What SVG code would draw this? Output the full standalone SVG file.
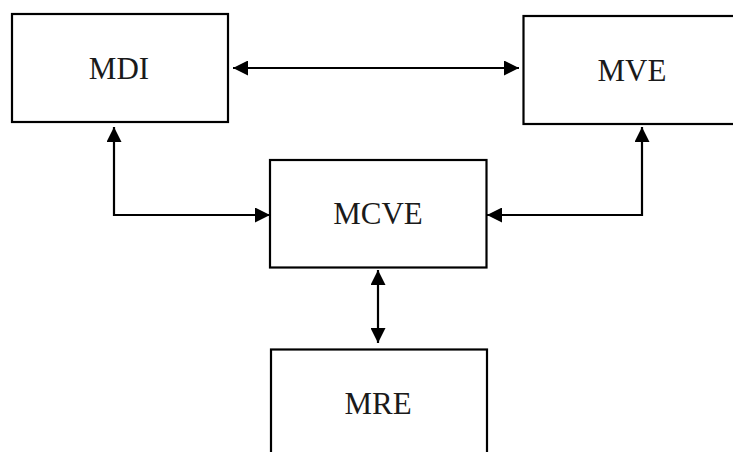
<svg xmlns="http://www.w3.org/2000/svg" width="733" height="452" viewBox="0 0 733 452">
<style>
.box{fill:#fff;stroke:#000;stroke-width:2.2}
.lbl{font-family:"Liberation Serif","Times New Roman",serif;font-size:31px;fill:#1a1a1a;text-anchor:middle}
.conn{fill:none;stroke:#000;stroke-width:2.2}
</style>
<defs>
<marker id="ah" markerUnits="userSpaceOnUse" markerWidth="15" markerHeight="15" refX="15" refY="7.5" orient="auto-start-reverse">
<path d="M0,0 L15,7.5 L0,15 z" fill="#000"/>
</marker>
</defs>
<rect width="733" height="452" fill="#fff"/>
<g id="connectors">
<path class="conn" d="M233,68 L519,68" marker-start="url(#ah)" marker-end="url(#ah)"/>
<path class="conn" d="M114,127 L114,215 L270,215" marker-start="url(#ah)" marker-end="url(#ah)"/>
<path class="conn" d="M642,127 L642,215 L487,215" marker-start="url(#ah)" marker-end="url(#ah)"/>
<path class="conn" d="M378,270 L378,343" marker-start="url(#ah)" marker-end="url(#ah)"/>
</g>
<g id="MDI">
<rect class="box" x="12" y="14" width="216" height="108"/>
<text class="lbl" x="119" y="79">MDI</text>
</g>
<g id="MVE">
<rect class="box" x="523.5" y="16" width="230" height="108"/>
<text class="lbl" x="632" y="80.5">MVE</text>
</g>
<g id="MCVE">
<rect class="box" x="270" y="160" width="216.5" height="107.5"/>
<text class="lbl" x="378" y="224">MCVE</text>
</g>
<g id="MRE">
<rect class="box" x="271" y="349.5" width="216" height="120"/>
<text class="lbl" x="378" y="414">MRE</text>
</g>
</svg>
